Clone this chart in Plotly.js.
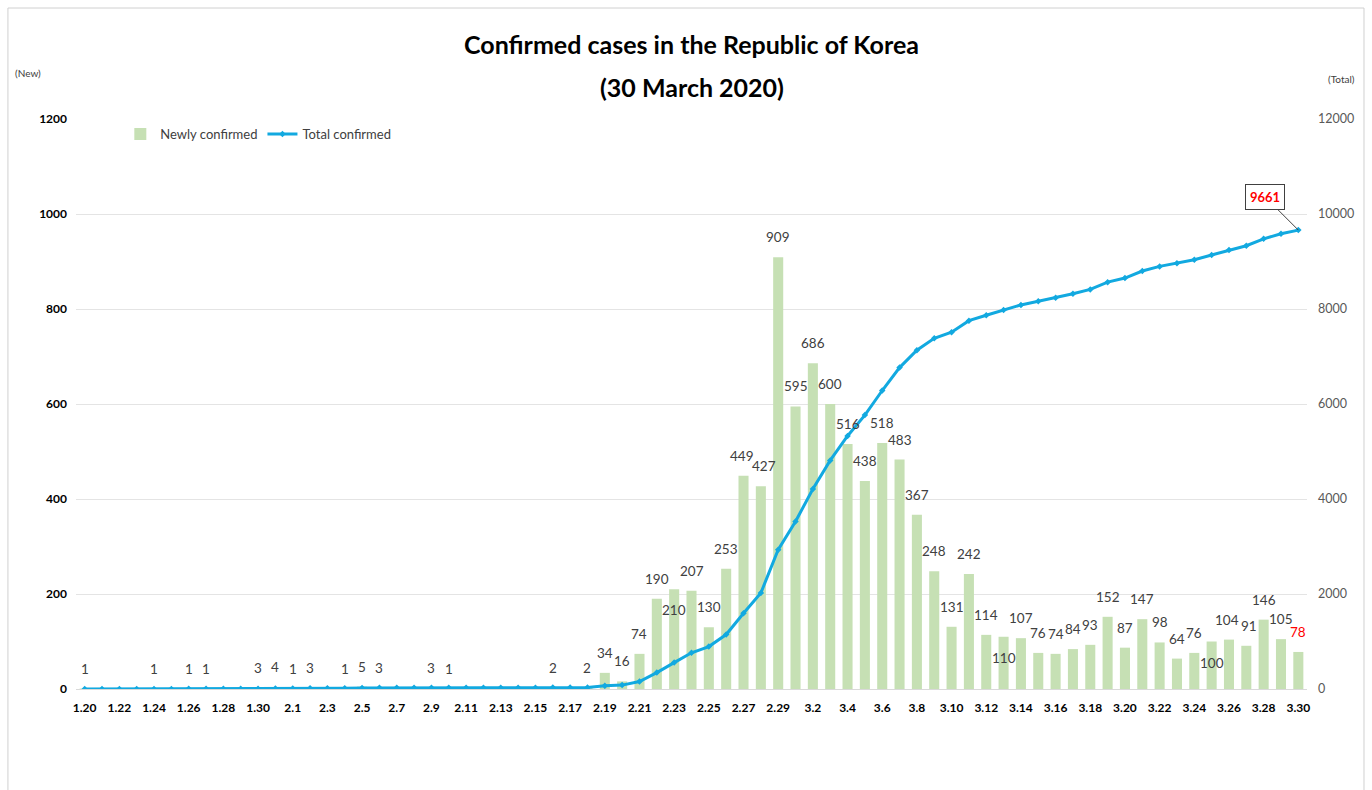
<!DOCTYPE html>
<html>
<head>
<meta charset="utf-8">
<script src="https://cdn.plot.ly/plotly-3.0.1.min.js"></script>
<style>
html,body{margin:0;padding:0;background:#fff;}
#chart{width:1372px;height:790px;}
</style>
</head>
<body>
<div id="chart"></div>
<script>
var dates = ["1.20","1.21","1.22","1.23","1.24","1.25","1.26","1.27","1.28","1.29","1.30","1.31",
  "2.1","2.2","2.3","2.4","2.5","2.6","2.7","2.8","2.9","2.10","2.11","2.12","2.13","2.14","2.15","2.16","2.17","2.18","2.19","2.20","2.21","2.22","2.23","2.24","2.25","2.26","2.27","2.28","2.29",
  "3.1","3.2","3.3","3.4","3.5","3.6","3.7","3.8","3.9","3.10","3.11","3.12","3.13","3.14","3.15","3.16","3.17","3.18","3.19","3.20","3.21","3.22","3.23","3.24","3.25","3.26","3.27","3.28","3.29","3.30"];

var newlyConfirmed = [1,0,0,0,1,0,1,1,0,0,3,4,
  1,3,0,1,5,3,0,0,3,1,0,0,0,0,0,2,0,2,34,16,74,190,210,207,130,253,449,427,909,
  595,686,600,516,438,518,483,367,248,131,242,114,110,107,76,74,84,93,152,87,147,98,64,76,100,104,91,146,105,78];

var totalConfirmed = [1,1,1,1,2,2,3,4,4,4,7,11,
  12,15,15,16,21,24,24,24,27,28,28,28,28,28,28,30,30,32,66,82,156,346,556,763,893,1146,1595,2022,2931,
  3526,4212,4812,5328,5766,6284,6767,7134,7382,7513,7755,7869,7979,8086,8162,8236,8320,8413,8565,8652,8799,8897,8961,9037,9137,9241,9332,9478,9583,9661];

var xTickLabels = ["1.20","1.22","1.24","1.26","1.28","1.30","2.1","2.3","2.5","2.7","2.9","2.11","2.13","2.15","2.17","2.19","2.21","2.23","2.25","2.27","2.29","3.2","3.4","3.6","3.8","3.10","3.12","3.14","3.16","3.18","3.20","3.22","3.24","3.26","3.28","3.30"];

var leftTicks = [0,200,400,600,800,1000,1200];
var rightTicks = [0,2000,4000,6000,8000,10000,12000];

var titleLine1 = 'Confirmed cases in the Republic of Korea';
var titleLine2 = '(30 March 2020)';

// label placement tweaks seen in the reference
var labelsBelow = ["2.23","3.13","3.25"];
var labelNudge = {"2.27": -2, "2.28": 3, "3.26": -2, "3.27": 3};
var highlightDate = "3.30";

var FONT = "Lato, 'Open Sans', sans-serif";
var lastIdx = dates.length - 1;

var bars = {
  type: 'bar', name: 'Newly confirmed', x: dates, y: newlyConfirmed,
  marker: {color: '#c6e0b4'}, hoverinfo: 'x+y'
};
var line = {
  type: 'scatter', mode: 'lines+markers', name: 'Total confirmed', x: dates, y: totalConfirmed,
  yaxis: 'y2', line: {color: '#12a9e0', width: 3},
  marker: {symbol: 'diamond', size: 5, color: '#12a9e0'}
};

var annotations = [
  {xref: 'paper', yref: 'paper', x: 0.5, y: 1.0561, xanchor: 'center', yanchor: 'middle',
   text: '<b>' + titleLine2 + '</b>', showarrow: false,
   font: {family: FONT, size: 25, color: '#000000'}},
  {xref: 'paper', yref: 'paper', x: -0.039, y: 1.081, xanchor: 'center', yanchor: 'middle',
   text: '(New)', showarrow: false, font: {family: FONT, size: 10, color: '#404040'}},
  {xref: 'paper', yref: 'paper', x: 1.0284, y: 1.070, xanchor: 'center', yanchor: 'middle',
   text: '(Total)', showarrow: false, font: {family: FONT, size: 10, color: '#404040'}},
  {x: lastIdx, y: totalConfirmed[lastIdx], xref: 'x', yref: 'y2',
   text: '<b>' + totalConfirmed[lastIdx] + '</b>',
   font: {family: FONT, size: 13, color: '#ff0000'},
   showarrow: true, arrowhead: 0, arrowwidth: 1, arrowcolor: '#404040',
   ax: -33, ay: -33, bordercolor: '#404040', borderwidth: 1, borderpad: 4, bgcolor: '#ffffff'}
];

newlyConfirmed.forEach(function(v, i){
  if (!v) return;
  var d = dates[i];
  var below = labelsBelow.indexOf(d) >= 0;
  annotations.push({
    x: i, y: v, xref: 'x', yref: 'y', text: String(v), showarrow: false,
    xanchor: 'center', yanchor: below ? 'top' : 'bottom',
    yshift: below ? -11 : 10, xshift: labelNudge[d] || 0,
    font: {family: FONT, size: 13.5, color: d === highlightDate ? '#ff0000' : '#404040'}
  });
});

var layout = {
  width: 1372, height: 790,
  margin: {l: 76, r: 65, t: 119, b: 101},
  paper_bgcolor: '#ffffff', plot_bgcolor: '#ffffff',
  font: {family: FONT, color: '#404040'},
  title: {
    text: '<b>' + titleLine1 + '</b>',
    font: {family: FONT, size: 25, color: '#000000'},
    x: 0.5, xref: 'paper', yref: 'container', y: 0.943, yanchor: 'middle'
  },
  bargap: 0.42,
  showlegend: true,
  legend: {orientation: 'h', x: 0.036, y: 1.0, xanchor: 'left', yanchor: 'top',
           font: {family: FONT, size: 13, color: '#404040'}, bgcolor: 'rgba(0,0,0,0)',
           itemwidth: 30},
  xaxis: {
    type: 'category', range: [-0.5, dates.length - 0.5],
    tickmode: 'array', tickvals: xTickLabels, ticktext: xTickLabels.map(function(t){return '<b>'+t+'</b>';}),
    tickfont: {family: FONT, size: 12, color: '#000000'}, tickangle: 0, ticklabelstandoff: 8,
    showline: true, linecolor: '#d9d9d9', linewidth: 1,
    ticks: '', showgrid: false, zeroline: false, fixedrange: true
  },
  yaxis: {
    range: [0, 1200], tickmode: 'array', tickvals: leftTicks,
    ticktext: leftTicks.map(function(t){return '<b>'+t+'</b>';}),
    tickfont: {family: FONT, size: 12, color: '#000000'}, ticklabelstandoff: 8,
    showgrid: true, gridcolor: '#e4e4e4', gridwidth: 1, zeroline: false,
    ticks: '', showline: false
  },
  yaxis2: {
    range: [0, 12000], overlaying: 'y', side: 'right', tickmode: 'array', tickvals: rightTicks,
    ticktext: rightTicks.map(String),
    tickfont: {family: FONT, size: 12.5, color: '#595959'}, ticklabelstandoff: 10,
    showgrid: false, zeroline: false, ticks: '', showline: false
  },
  annotations: annotations,
  shapes: [
    {type: 'rect', xref: 'paper', yref: 'paper', x0: -0.0553, x1: 1.0463, y0: -0.2, y1: 1.1947,
     line: {color: '#d0d0d0', width: 1}, fillcolor: 'rgba(0,0,0,0)', layer: 'below'}
  ]
};

Plotly.newPlot('chart', [bars, line], layout, {displayModeBar: false, staticPlot: true});
</script>
</body>
</html>
